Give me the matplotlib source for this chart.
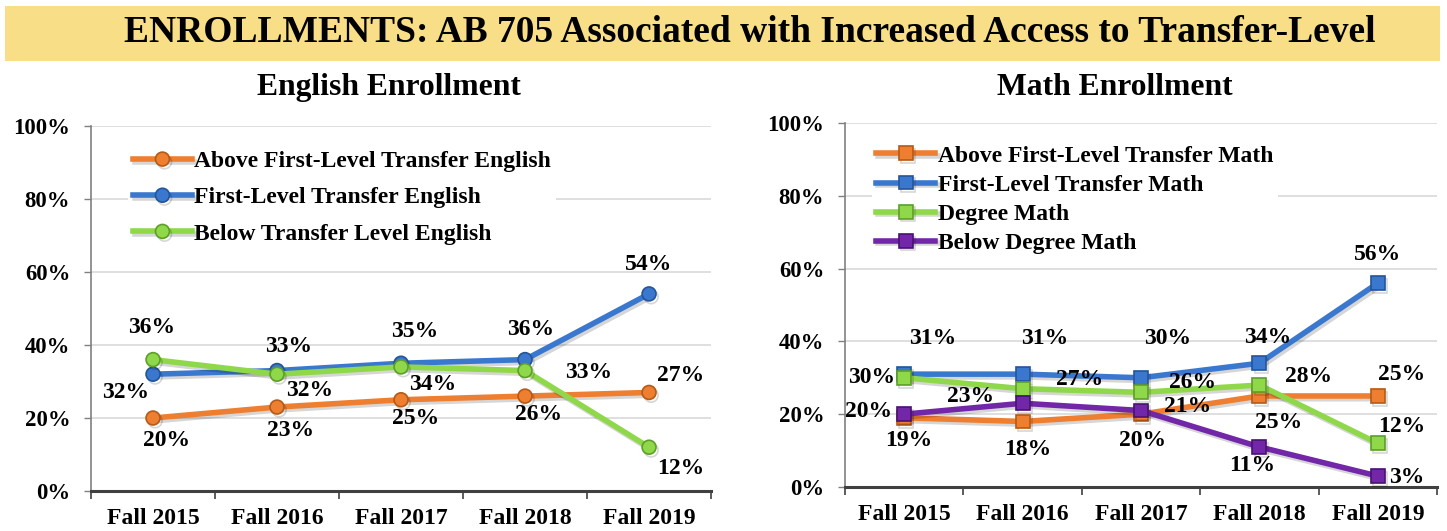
import matplotlib.pyplot as plt
import matplotlib.patheffects as pe
from matplotlib.patches import Rectangle

terms = ['Fall 2015', 'Fall 2016', 'Fall 2017', 'Fall 2018', 'Fall 2019']

# English enrollment (%)
eng_above = [20, 23, 25, 26, 27]
eng_first = [32, 33, 35, 36, 54]
eng_below = [36, 32, 34, 33, 12]

# Math enrollment (%)
math_above = [19, 18, 20, 25, 25]
math_first = [31, 31, 30, 34, 56]
math_degree = [30, 27, 26, 28, 12]
math_below = [20, 23, 21, 11, 3]

# where each value label sits relative to its point (pixels)
eng_offsets = {
    'above': [(14, -22), (14, -23), (15, -19), (14, -18), (32, 17)],
    'first': [(-27, -18), (12, 24), (14, 32), (6, 30), (0, 29)],
    'below': [(-1, 32), (33, -16), (32, -18), (64, -2), (32, -21)],
}
math_offsets = {
    'above': [(5, -23), (5, -28), (2, -26), (19, -27), (24, 21)],
    'first': [(28, 36), (22, 36), (27, 39), (8, 26), (0, 29)],
    'degree': [(-33, 0), (57, 9), (52, 10), (49, 9), (24, 17)],
    'below': [(-36, 3), (-52, 7), (47, 4), (-7, -19), (29, -1)],
}

ORANGE = ('#EE7E30', '#B55A18')
BLUE = ('#3A78CF', '#24549A')
GREEN = ('#8ED84A', '#5E9E2A')
PURPLE = ('#7226A8', '#4A1270')

SERIF = 'Liberation Serif'
plt.rcParams['font.family'] = SERIF
plt.rcParams['font.weight'] = 'bold'

fig = plt.figure(figsize=(14.47, 5.31), dpi=100)

# yellow banner
fig.patches.append(Rectangle((0.0035, 0.885), 0.992, 0.104, transform=fig.transFigure,
                             facecolor='#F8DE86', edgecolor='none', zorder=0))
fig.text(0.518, 0.938, 'ENROLLMENTS: AB 705 Associated with Increased Access to Transfer-Level',
         ha='center', va='center', fontsize=27, fontweight='bold')
fig.text(0.2685, 0.836, 'English Enrollment', ha='center', va='center', fontsize=22.8, fontweight='bold')
fig.text(0.7706, 0.836, 'Math Enrollment', ha='center', va='center', fontsize=22.8, fontweight='bold')

shadow = [pe.SimpleLineShadow(offset=(1.5, -2), shadow_color='k', alpha=0.16), pe.Normal()]


def setup_axes(ax):
    x = list(range(len(terms)))
    ax.set_xlim(-0.5, len(terms) - 0.5)
    ax.set_ylim(0, 100)
    ax.set_yticks([0, 20, 40, 60, 80, 100])
    ax.set_yticklabels(['{}%'.format(v) for v in [0, 20, 40, 60, 80, 100]],
                       fontsize=16.4, fontweight='bold')
    ax.set_xticks(x)
    ax.set_xticklabels(terms, fontsize=17, fontweight='bold')
    ax.set_xticks([i - 0.5 for i in range(len(terms) + 1)], minor=True)
    ax.tick_params(axis='x', which='major', length=0, pad=12)
    ax.tick_params(axis='x', which='minor', length=6, width=1.2, color='#404040')
    ax.tick_params(axis='y', length=5, width=1.0, color='#808080', pad=10)
    ax.grid(axis='y', color='#D9D9D9', linewidth=1.2)
    ax.set_axisbelow(True)
    for s in ('top', 'right'):
        ax.spines[s].set_visible(False)
    ax.spines['left'].set_color('#808080')
    ax.spines['left'].set_linewidth(1.2)
    ax.spines['bottom'].set_color('#404040')
    ax.spines['bottom'].set_linewidth(2.2)


def draw_series(ax, values, colors, marker, label, offsets):
    x = list(range(len(values)))
    ax.plot(x, values, color=colors[0], linewidth=4, marker=marker, markersize=10,
            markerfacecolor=colors[0], markeredgecolor=colors[1], markeredgewidth=1.2,
            label=label, path_effects=shadow, zorder=3)
    for i, v in enumerate(values):
        ax.annotate('{}%'.format(v), xy=(i, v), xytext=offsets[i], textcoords='offset pixels',
                    ha='center', va='center', fontsize=17, fontweight='bold', zorder=5)


# English panel
ax1 = fig.add_axes([0.0629, 0.0753, 0.4285, 0.6874])
setup_axes(ax1)
draw_series(ax1, eng_above, ORANGE, 'o', 'Above First-Level Transfer English', eng_offsets['above'])
draw_series(ax1, eng_first, BLUE, 'o', 'First-Level Transfer English', eng_offsets['first'])
draw_series(ax1, eng_below, GREEN, 'o', 'Below Transfer Level English', eng_offsets['below'])
leg1 = ax1.legend(loc='upper left', bbox_to_anchor=(0.06, 0.945), fontsize=17, frameon=True,
                  facecolor='white', edgecolor='none', framealpha=1, handlelength=2.5,
                  handletextpad=0.1, labelspacing=0.62, borderpad=0.2, borderaxespad=0)

# Math panel
ax2 = fig.add_axes([0.584, 0.0829, 0.4091, 0.6855])
setup_axes(ax2)
draw_series(ax2, math_above, ORANGE, 's', 'Above First-Level Transfer Math', math_offsets['above'])
draw_series(ax2, math_first, BLUE, 's', 'First-Level Transfer Math', math_offsets['first'])
draw_series(ax2, math_degree, GREEN, 's', 'Degree Math', math_offsets['degree'])
draw_series(ax2, math_below, PURPLE, 's', 'Below Degree Math', math_offsets['below'])
leg2 = ax2.legend(loc='upper left', bbox_to_anchor=(0.045, 0.952), fontsize=17, frameon=True,
                  facecolor='white', edgecolor='none', framealpha=1, handlelength=2.5,
                  handletextpad=0.1, labelspacing=0.32, borderpad=0.2, borderaxespad=0)

plt.savefig('out.png', dpi=100)
